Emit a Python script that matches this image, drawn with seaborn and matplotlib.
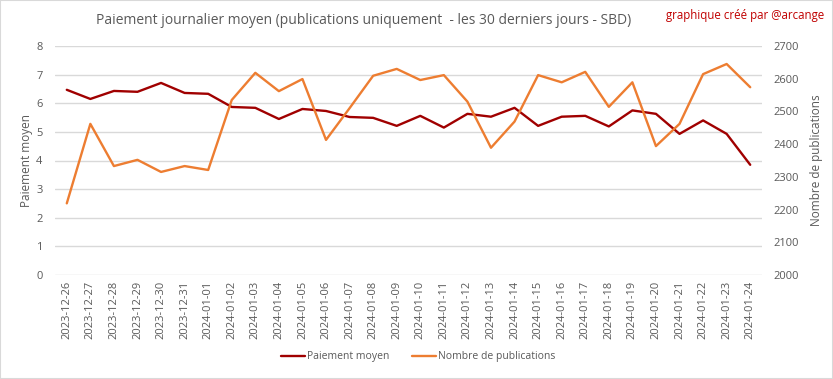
import matplotlib
matplotlib.use("Agg")
import matplotlib.pyplot as plt
import seaborn as sns
import pandas as pd
from matplotlib.patches import Rectangle

dates = ["2023-12-26", "2023-12-27", "2023-12-28", "2023-12-29", "2023-12-30", "2023-12-31",
         "2024-01-01", "2024-01-02", "2024-01-03", "2024-01-04", "2024-01-05", "2024-01-06",
         "2024-01-07", "2024-01-08", "2024-01-09", "2024-01-10", "2024-01-11", "2024-01-12",
         "2024-01-13", "2024-01-14", "2024-01-15", "2024-01-16", "2024-01-17", "2024-01-18",
         "2024-01-19", "2024-01-20", "2024-01-21", "2024-01-22", "2024-01-23", "2024-01-24"]
paiement = [6.47, 6.15, 6.43, 6.40, 6.71, 6.36, 6.33, 5.87, 5.84, 5.45, 5.80, 5.73,
            5.52, 5.49, 5.21, 5.56, 5.15, 5.63, 5.53, 5.84, 5.21, 5.53, 5.56, 5.19,
            5.75, 5.63, 4.93, 5.40, 4.93, 3.85]
publications = [2219, 2462, 2333, 2352, 2315, 2333, 2321, 2535, 2618, 2562, 2599, 2413,
                2510, 2609, 2630, 2596, 2611, 2530, 2389, 2469, 2611, 2589, 2621, 2514,
                2589, 2394, 2462, 2614, 2645, 2574]

df = pd.DataFrame({"x": range(len(dates)), "date": dates,
                   "paiement": paiement, "publications": publications})

sns.set_theme(style="white")
plt.rcParams['font.family'] = ['Open Sans', 'DejaVu Sans']

RED = "#A00000"
ORANGE = "#ED7D31"
TXT = "#595959"
GRID = "#D9D9D9"

fig = plt.figure(figsize=(8.33, 3.79), dpi=100)
ax = fig.add_axes([55/833, 1-275/379, (762-55)/833, (275-46)/379])
ax2 = ax.twinx()

sns.lineplot(data=df, x="x", y="paiement", ax=ax, color=RED, linewidth=1.7, label="Paiement moyen", legend=False)
sns.lineplot(data=df, x="x", y="publications", ax=ax2, color=ORANGE, linewidth=1.7, label="Nombre de publications", legend=False)

ax.set_xlim(-0.5, len(dates) - 0.5)
ax.set_ylim(0, 8)
ax2.set_ylim(2000, 2700)
ax.set_yticks(range(0, 9))
ax2.set_yticks(range(2000, 2701, 100))
ax.set_xticks(range(len(dates)))
ax.set_xticklabels(dates, rotation=90, fontsize=8, color=TXT)
ax.tick_params(axis='y', labelsize=8, labelcolor=TXT, length=0, pad=9)
ax2.tick_params(axis='y', labelsize=8, labelcolor=TXT, length=0, pad=8)
ax.tick_params(axis='x', length=0, pad=4)
ax.grid(axis='y', color=GRID, linewidth=1)
ax.set_axisbelow(True)
for a in (ax, ax2):
    for s in a.spines.values():
        s.set_visible(False)
ax.set_xlabel("")
ax.set_ylabel("Paiement moyen", fontsize=8.5, color=TXT, labelpad=2)
ax2.set_ylabel("Nombre de publications", fontsize=8.5, color=TXT, labelpad=8)

fig.text(364/833, 1-21/379, "Paiement journalier moyen (publications uniquement  - les 30 derniers jours - SBD)",
         ha='center', va='center', fontsize=10, color=TXT)
fig.text(824/833, 1-15/379, "graphique créé par @arcange", ha='right', va='center',
         fontsize=8.3, color="#C00000")

h1, l1 = ax.get_legend_handles_labels()
h2, l2 = ax2.get_legend_handles_labels()
fig.legend(h1 + h2, l1 + l2, loc='center', bbox_to_anchor=(418/833, 1-357/379), ncol=2,
           frameon=False, fontsize=7.5, labelcolor=TXT, handlelength=2.3, columnspacing=2.2,
           handletextpad=0.2)

fig.patches.append(Rectangle((0, 0), 1, 1, transform=fig.transFigure, fill=False,
                             edgecolor="#D9D9D9", linewidth=1.5))

fig.savefig("out.png", dpi=100)
